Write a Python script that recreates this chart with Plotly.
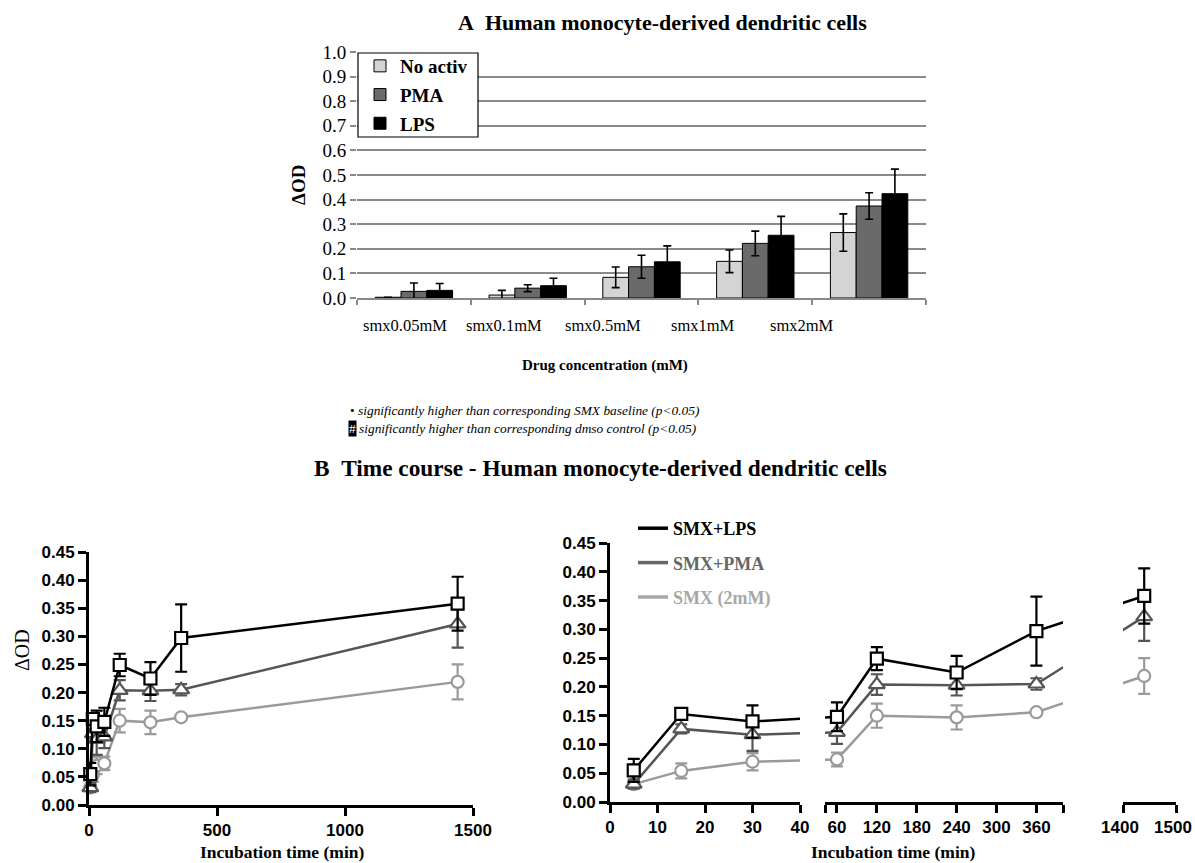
import plotly.graph_objects as go

W, H = 1195, 863

# ---------------- data: panel A (bar chart) ----------------
categories = ["smx0.05mM", "smx0.1mM", "smx0.5mM", "smx1mM", "smx2mM"]
noactiv = [0.003, 0.012, 0.084, 0.149, 0.266]
noactiv_err = [0.0, 0.019, 0.042, 0.046, 0.076]
pma_bar = [0.027, 0.040, 0.127, 0.222, 0.374]
pma_bar_err = [0.034, 0.014, 0.047, 0.050, 0.054]
lps_bar = [0.031, 0.050, 0.147, 0.255, 0.424]
lps_bar_err = [0.028, 0.030, 0.065, 0.077, 0.100]
yticks_a = [0.0, 0.1, 0.2, 0.3, 0.4, 0.5, 0.6, 0.7, 0.8, 0.9, 1.0]

# ---------------- data: panel B (time course) ----------------
times = [5, 15, 30, 60, 120, 240, 360, 1440]
lps = [0.055, 0.153, 0.140, 0.148, 0.249, 0.225, 0.297, 0.358]
lps_err = [0.020, 0.006, 0.028, 0.025, 0.020, 0.029, 0.060, 0.048]
pma = [0.031, 0.127, 0.117, 0.121, 0.204, 0.203, 0.205, 0.322]
pma_err = [0.008, 0.008, 0.028, 0.020, 0.018, 0.018, 0.010, 0.042]
smx = [0.031, 0.054, 0.070, 0.074, 0.150, 0.147, 0.156, 0.219]
smx_err = [0.006, 0.013, 0.015, 0.012, 0.021, 0.021, 0.004, 0.031]
yticks_b = [0.00, 0.05, 0.10, 0.15, 0.20, 0.25, 0.30, 0.35, 0.40, 0.45]
xticks_left = [0, 500, 1000, 1500]
xticks_seg1 = [0, 10, 20, 30, 40]
xticks_seg2 = [42, 60, 120, 180, 240, 300, 360, 400]
xticks_seg2_text = ["", "60", "120", "180", "240", "300", "360", ""]
xticks_seg3 = [1400, 1500]

SERIF = "Liberation Serif"
SANS = "Liberation Sans"
C_LPS, C_PMA, C_SMX = "#000000", "#555555", "#9a9a9a"


def px(x):
    return x / W


def py(y):
    return 1 - y / H


# broken time axis of the right panel: (axis name, range, pixel span)
segments = [
    ("x3", [0, 40], [610, 800]),
    ("x4", [42, 400], [825, 1063]),
    ("x5", [1400, 1500], [1123, 1176]),
]


def screen_pos(t):
    for _, (a, b), (p0, p1) in segments:
        if a <= t <= b:
            return p0 + (t - a) / (b - a) * (p1 - p0)
    raise ValueError(t)


def in_segment(t, seg):
    _, (a, b), (p0, p1) = seg
    return a + (screen_pos(t) - p0) / (p1 - p0) * (b - a)


fig = go.Figure()

# ---- Panel A bars ----
bar_specs = [
    ("No activ", noactiv, noactiv_err, "#d4d4d4"),
    ("PMA", pma_bar, pma_bar_err, "#6a6a6a"),
    ("LPS", lps_bar, lps_bar_err, "#000000"),
]
for i, (name, vals, errs, col) in enumerate(bar_specs):
    fig.add_trace(go.Bar(
        x=categories, y=vals, name=name, marker=dict(color=col, line=dict(color="black", width=1)),
        error_y=dict(type="data", array=errs, color="black", thickness=1.6, width=4),
        xaxis="x", yaxis="y", legend="legend", legendgroup="g%d" % i,
    ))

# ---- Panel B series ----
series = [
    ("SMX (2mM)", smx, smx_err, C_SMX, "circle", 12),
    ("SMX+PMA", pma, pma_err, C_PMA, "triangle-up", 14),
    ("SMX+LPS", lps, lps_err, C_LPS, "square", 12),
]


def add_series(xs, xa, ya, clip):
    for name, vals, errs, col, sym, sz in series:
        fig.add_trace(go.Scatter(
            x=xs, y=vals, mode="lines+markers", showlegend=False,
            line=dict(color=col, width=2.5),
            marker=dict(symbol=sym, size=sz, color="white", line=dict(color=col, width=2.2)),
            error_y=dict(type="data", array=errs, color=col, thickness=2.2, width=6),
            cliponaxis=clip, xaxis=xa, yaxis=ya,
        ))


add_series(times, "x2", "y2", False)
for seg in segments:
    add_series([in_segment(t, seg) for t in times], seg[0], "y3", True)

# legend-only entries for the line legend
for i, (name, col) in enumerate([("SMX+LPS", C_LPS), ("SMX+PMA", "#666666"), ("SMX (2mM)", "#a8a8a8")]):
    fig.add_trace(go.Scatter(
        x=[None], y=[None], mode="lines", name="<span style='color:%s'>%s</span>" % (col, name),
        line=dict(color=col, width=3.5), xaxis="x3", yaxis="y3", legend="legend2",
        legendgroup="l%d" % i,
    ))

axis_b = dict(showline=True, linewidth=3, linecolor="black", ticks="outside", ticklen=8, tickwidth=3,
              tickcolor="black", showgrid=False, zeroline=False, automargin=False,
              tickfont=dict(family=SANS, size=17, color="black", weight="bold"))

seg_axes = {}
for (name, rng, (p0, p1)) in segments:
    seg_axes[name] = dict(axis_b, domain=[px(p0), px(p1)], anchor="y3", range=rng)
seg_axes["x3"]["tickvals"] = xticks_seg1
seg_axes["x4"]["tickvals"] = xticks_seg2
seg_axes["x4"]["ticktext"] = xticks_seg2_text
seg_axes["x5"]["tickvals"] = xticks_seg3
seg_axes["x5"]["ticklabelshift"] = -3

fig.update_layout(
    width=W, height=H, margin=dict(l=0, r=0, t=0, b=0, pad=0, autoexpand=False),
    paper_bgcolor="white", plot_bgcolor="rgba(0,0,0,0)",
    barmode="group", bargap=0.32, bargroupgap=0,
    xaxis=dict(domain=[px(357), px(926)], anchor="y", type="category", showticklabels=False,
               ticks="outside", tickson="boundaries", ticklen=5, tickcolor="#888", tickwidth=1.5,
               showline=True, linecolor="#888", linewidth=1.5, showgrid=False, automargin=False),
    yaxis=dict(domain=[py(298), py(52)], anchor="x", range=[0, 1.0], tickvals=yticks_a,
               tickformat=".1f", showgrid=True, gridcolor="#8a8a8a", gridwidth=1.5,
               ticks="outside", ticklen=6, tickcolor="#8a8a8a", tickwidth=1.5,
               showline=False, zeroline=False, automargin=False,
               tickfont=dict(family=SERIF, size=19, color="black")),
    xaxis2=dict(axis_b, domain=[px(89), px(473)], anchor="y2", range=[0, 1500], tickvals=xticks_left),
    yaxis2=dict(axis_b, domain=[py(805), py(552)], anchor="x2", range=[0, 0.45], tickvals=yticks_b,
                tickformat=".2f"),
    xaxis3=seg_axes["x3"], xaxis4=seg_axes["x4"], xaxis5=seg_axes["x5"],
    yaxis3=dict(axis_b, domain=[py(802), py(543)], anchor="x3", range=[0, 0.45], tickvals=yticks_b,
                tickformat=".2f"),
    legend=dict(x=px(360), y=py(47), xanchor="left", yanchor="top", bgcolor="rgba(0,0,0,0)",
                borderwidth=0, tracegroupgap=1,
                font=dict(family=SERIF, size=19, color="black", weight="bold")),
    legend2=dict(x=px(633), y=py(510), xanchor="left", yanchor="top", bgcolor="rgba(0,0,0,0)",
                 borderwidth=0, tracegroupgap=8,
                 font=dict(family=SERIF, size=18, color="black", weight="bold")),
)

# frame of the bar legend
fig.add_shape(type="rect", xref="paper", yref="paper", x0=px(358), x1=px(478), y0=py(137), y1=py(53),
              fillcolor="white", line=dict(color="black", width=1.2), layer="above")

# category tick labels of panel A (printed slightly left of the category centres in the original)
label_start, label_step = -0.077, 0.871
for i, c in enumerate(categories):
    fig.add_annotation(x=label_start + i * label_step, y=py(325), xref="x", yref="paper", text=c,
                       xanchor="center", yanchor="middle",
                       showarrow=False, font=dict(family=SERIF, size=16.5, color="black"))

ann = [
    dict(x=px(662), y=py(22), text="A\u00a0\u00a0Human monocyte-derived dendritic cells",
         font=dict(family=SERIF, size=22, color="black", weight="bold")),
    dict(x=px(605), y=py(365), text="Drug concentration (mM)",
         font=dict(family=SERIF, size=15, color="black", weight="bold")),
    dict(x=px(600), y=py(468), text="B\u00a0\u00a0Time course - Human monocyte-derived dendritic cells",
         font=dict(family=SERIF, size=23.3, color="black", weight="bold")),
    dict(x=px(282), y=py(852), text="Incubation time (min)",
         font=dict(family=SERIF, size=17.5, color="black", weight="bold")),
    dict(x=px(893), y=py(852), text="Incubation time (min)",
         font=dict(family=SERIF, size=17.5, color="black", weight="bold")),
    dict(x=px(299), y=py(185), text="ΔOD", textangle=-90,
         font=dict(family=SERIF, size=19, color="black", weight="bold")),
    dict(x=px(22), y=py(650), text="ΔOD", textangle=-90,
         font=dict(family=SERIF, size=20, color="black")),
]
for a in ann:
    fig.add_annotation(xref="paper", yref="paper", showarrow=False, xanchor="center",
                       yanchor="middle", **a)

# footnotes
fig.add_annotation(x=px(348), y=py(410), xref="paper", yref="paper", xanchor="left", yanchor="middle",
                   text="• <i>significantly higher than corresponding SMX baseline (p&lt;0.05)</i>",
                   showarrow=False, font=dict(family=SERIF, size=13.4, color="black"))
fig.add_annotation(x=px(348), y=py(428), xref="paper", yref="paper", xanchor="left", yanchor="middle",
                   text="#", showarrow=False, bgcolor="black", borderpad=0,
                   font=dict(family=SERIF, size=13.4, color="white"))
fig.add_annotation(x=px(357), y=py(428), xref="paper", yref="paper", xanchor="left", yanchor="middle",
                   text="<i>significantly higher than corresponding dmso control (p&lt;0.05)</i>",
                   showarrow=False, font=dict(family=SERIF, size=13.4, color="black"))

# place the figure flush with the page corner (no default body margin, no scrollbars)
fig.write_html("out.html", config={"displayModeBar": False},
               post_script="document.body.style.margin='0';document.body.style.overflow='hidden';")
